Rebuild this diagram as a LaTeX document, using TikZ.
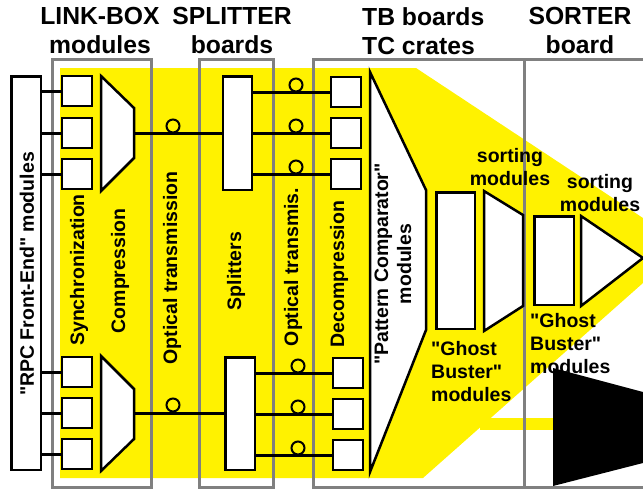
\documentclass[tikz,border=0pt]{standalone}
\usepackage{fontspec}
\setmainfont{Liberation Sans}[Ligatures=TeXOff]
\definecolor{grpgray}{RGB}{128,128,128}

\begin{document}
\begin{tikzpicture}[
  x=1pt, y=-1pt,
  box/.style={draw, line width=2.5pt, fill=white, inner sep=0pt},
  cell/.style={box, minimum width=30pt, minimum height=30pt},
  group/.style={draw=grpgray, line width=3pt},
  wire/.style={line width=3pt},
  ring/.style={draw, circle, line width=2pt, minimum size=13pt, inner sep=0pt},
  hdr/.style={font=\fontsize{24.7}{29}\selectfont\bfseries, inner sep=0pt},
  lbl/.style={font=\fontsize{19.5}{23}\selectfont\bfseries, inner sep=0pt},
  vlbl/.style={lbl, rotate=90},
]
\useasboundingbox (0,0) rectangle (643,488);
\clip (0,0) rectangle (643,488);

% ---------- Yellow data path ----------
\fill[yellow] (60,68) -- (416,68) -- (643,218) -- (643,283) -- (423,478) -- (60,478) -- cycle;
\fill[yellow] (480,418) rectangle (553,430);

% ---------- Crates / boards ----------
\draw[group] (52,59) rectangle (151,487);
\draw[group] (199,59) rectangle (273,487);
\draw[group] (313,59) rectangle (524,487);
\draw[group] (524,59) rectangle (660,487);

\node[hdr, align=center, anchor=north] (hdrLink)  at (100,7) {LINK-BOX\\modules};
\node[hdr, align=center, anchor=north] (hdrSplit) at (232,7) {SPLITTER\\boards};
\node[hdr, align=left, anchor=north west] (hdrTB) at (362,7) {TB boards\\TC crates};
\node[hdr, align=center, anchor=north] (hdrSort)  at (580,7) {SORTER\\board};

% ---------- Front-end and link boxes ----------
\node[box, minimum width=29.5pt, minimum height=393.5pt] (rpc) at (26,273) {};

\foreach \y [count=\i] in {91,133,174} {
  \node[cell] (syncT\i) at (77,\y) {};
  \draw[wire] (rpc.east |- syncT\i) -- (syncT\i.west);
}
\foreach \y [count=\i] in {372,413,454} {
  \node[cell] (syncB\i) at (77,\y) {};
  \draw[wire] (rpc.east |- syncB\i) -- (syncB\i.west);
}

\draw[box] (101,76) -- (134,108) -- (134,158) -- (101,191) -- cycle;
\draw[box] (101,356) -- (134,389) -- (134,439) -- (101,471) -- cycle;
\coordinate (cmpT) at (134,133);
\coordinate (cmpB) at (134,413.5);

% ---------- Splitters ----------
\node[box, minimum width=29pt, minimum height=113.5pt] (splT) at (237.5,133) {};
\node[box, minimum width=29.5pt, minimum height=112.5pt] (splB) at (240,413.5) {};

\draw[wire] (cmpT) -- (splT.west |- cmpT);
\draw[wire] (cmpB) -- (splB.west |- cmpB);
\node[ring] (ringT) at (173,126) {};
\node[ring] (ringB) at (173,405) {};

% ---------- Trigger boards ----------
\foreach \y [count=\i] in {92,133,174} {
  \node[cell] (decT\i) at (346,\y) {};
  \draw[wire] (splT.east |- decT\i) -- (decT\i.west);
  \node[ring] (ringDT\i) at (296,\y-7) {};
}
\foreach \y [count=\i] in {373,414,455} {
  \node[cell] (decB\i) at (348,\y) {};
  \draw[wire] (splB.east |- decB\i) -- (decB\i.west);
  \node[ring] (ringDB\i) at (298,\y-7) {};
}

\draw[box] (370,72) -- (426,190) -- (426,330) -- (370,472) -- cycle;
\node[box, minimum width=38.5pt, minimum height=136.5pt] (gbTB) at (455.5,260.5) {};
\draw[box] (484,191) -- (523,215) -- (523,306) -- (484,331) -- cycle;

% ---------- Sorter ----------
\node[box, minimum width=39.5pt, minimum height=88.5pt] (gbSort) at (554,260.5) {};
\draw[box] (581,216) -- (643,258) -- (581,306) -- cycle;

% ---------- Labels ----------
\node[vlbl] (rpcTxt)   at (27,274)  {"RPC Front-End" modules};
\node[vlbl] (syncTxt)  at (79,270)  {Synchronization};
\node[vlbl] (cmpTxt)   at (120,271) {Compression};
\node[vlbl] (optTxtA)  at (172,268) {Optical transmission};
\node[vlbl] (splTxt)   at (236,271) {Splitters};
\node[vlbl] (optTxtB)  at (293,267) {Optical transmis.};
\node[vlbl] (decTxt)   at (339,274) {Decompression};
\node[vlbl, align=center] (pcTxt) at (393,264) {"Pattern Comparator"\\modules};

\node[lbl, align=center, anchor=north] (sortTxtA) at (510,148) {sorting\\modules};
\node[lbl, align=center, anchor=north] (sortTxtB) at (600,174) {sorting\\modules};
\node[lbl, align=left, anchor=north west] (gbTxtA) at (431,341) {"Ghost\\Buster"\\modules};
\node[lbl, align=left, anchor=north west] (gbTxtB) at (530,313) {"Ghost\\Buster"\\modules};

% ---------- Output ----------
\fill (553,368) -- (643,392) -- (643,463) -- (553,486) -- cycle;

\end{tikzpicture}
\end{document}
